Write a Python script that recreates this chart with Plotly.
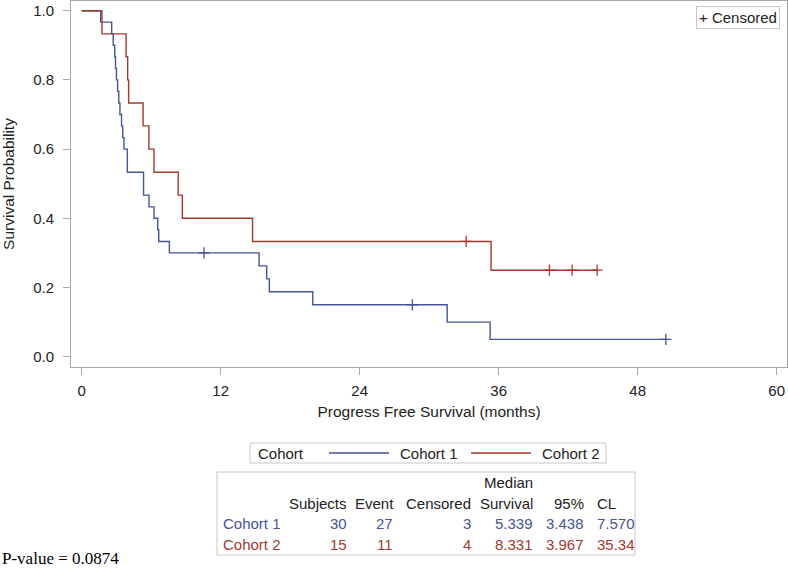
import plotly.graph_objects as go

# Kaplan-Meier steps (time in months, survival probability)
cohort1_time = [0, 1.64, 2.59, 2.72, 2.85, 2.92, 3.0, 3.1, 3.2, 3.3, 3.438, 3.54, 3.65,
                3.94, 5.339, 5.81, 6.24, 6.56, 6.65, 7.57, 15.31, 15.97, 16.2, 19.95,
                31.55, 35.26, 50.43]
cohort1_surv = [1.0, 0.967, 0.933, 0.9, 0.867, 0.833, 0.8, 0.767, 0.733, 0.7, 0.667, 0.633, 0.6,
                0.533, 0.467, 0.433, 0.4, 0.367, 0.333, 0.3, 0.2625, 0.225, 0.1875, 0.15,
                0.1, 0.05, 0.05]
cohort1_cens_time = [10.56, 28.55, 50.43]
cohort1_cens_surv = [0.3, 0.15, 0.05]

cohort2_time = [0, 1.75, 3.83, 3.967, 4.05, 5.3, 5.8, 6.24, 8.331, 8.69, 14.75, 35.34, 44.5]
cohort2_surv = [1.0, 0.933, 0.867, 0.8, 0.733, 0.667, 0.6, 0.533, 0.467, 0.4, 0.333, 0.25, 0.25]
cohort2_cens_time = [33.19, 40.38, 42.34, 44.5]
cohort2_cens_surv = [0.333, 0.25, 0.25, 0.25]

# summary table
cohorts = ["Cohort 1", "Cohort 2"]
subjects = [30, 15]
events = [27, 11]
censored = [3, 4]
median_surv = ["5.339", "8.331"]
lower_cl = ["3.438", "3.967"]
upper_cl = ["7.570", "35.34"]
p_value = "0.0874"

BLUE = "#445694"
RED = "#A23A2E"
GRID = "#a8a8a8"
FONT = "Arial, Liberation Sans, sans-serif"

# plot area in pixels (figure is 788x569)
L, R, T, B = 71, 787, 1, 367


def px_x(q):
    return (q - L) / (R - L)


def px_y(p):
    return (B - p) / (B - T)


fig = go.Figure()

for name, t, s, ct, cs, col in [
    ("Cohort 1", cohort1_time, cohort1_surv, cohort1_cens_time, cohort1_cens_surv, BLUE),
    ("Cohort 2", cohort2_time, cohort2_surv, cohort2_cens_time, cohort2_cens_surv, RED),
]:
    fig.add_trace(go.Scatter(x=t, y=s, mode="lines", line=dict(shape="hv", color=col, width=1.4),
                             name=name, showlegend=False))
    fig.add_trace(go.Scatter(x=ct, y=cs, mode="markers", name=name + " censored", showlegend=False,
                             marker=dict(symbol="cross-thin", size=8, line=dict(color=col, width=1.3))))

axis_common = dict(showline=True, mirror=True, linecolor=GRID, linewidth=1, ticks="outside",
                   ticklen=7, tickcolor=GRID, showgrid=False, zeroline=False,
                   tickfont=dict(family=FONT, size=15, color="#222"))

fig.update_xaxes(range=[-0.924, 60.89], tickvals=[0, 12, 24, 36, 48, 60], ticklabelstandoff=3,
                 title=dict(text="Progress Free Survival (months)", standoff=8,
                            font=dict(family=FONT, size=15.5, color="#222")),
                 **axis_common)
fig.update_yaxes(range=[-0.0298, 1.028], tickvals=[0, 0.2, 0.4, 0.6, 0.8, 1.0], tickformat=".1f",
                 ticklabelstandoff=6,
                 title=dict(text="Survival Probability", standoff=16,
                            font=dict(family=FONT, size=15.5, color="#222")),
                 **axis_common)

shapes = []
ann = []

# "+ Censored" inset
ann.append(dict(x=px_x(780), y=px_y(6.5), xref="paper", yref="paper", xanchor="right", yanchor="top",
                text="+ Censored", showarrow=False, font=dict(family=FONT, size=15, color="#222"),
                bordercolor="#c8c8c8", borderwidth=1, borderpad=2, bgcolor="white"))

# cohort legend below the plot
shapes.append(dict(type="rect", xref="paper", yref="paper", x0=px_x(250), x1=px_x(606),
                   y0=px_y(463), y1=px_y(443), line=dict(color="#c8c8c8", width=1)))
ann.append(dict(x=px_x(256), y=px_y(453), xref="paper", yref="paper", xanchor="left", yanchor="middle",
                text="Cohort", showarrow=False, font=dict(family=FONT, size=15, color="#222")))
for (x0, x1, tx), name, col in zip([(329, 389, 398), (471, 531, 540)], cohorts, [BLUE, RED]):
    shapes.append(dict(type="line", xref="paper", yref="paper", x0=px_x(x0), x1=px_x(x1),
                       y0=px_y(453), y1=px_y(453), line=dict(color=col, width=1.4)))
    ann.append(dict(x=px_x(tx), y=px_y(453), xref="paper", yref="paper", xanchor="left",
                    yanchor="middle", text=name, showarrow=False,
                    font=dict(family=FONT, size=15, color="#222")))

# summary table
shapes.append(dict(type="rect", xref="paper", yref="paper", x0=px_x(217), x1=px_x(635),
                   y0=px_y(555), y1=px_y(472), line=dict(color="#c8c8c8", width=1)))


def cell(text, xr, yc, color="#222", anchor="right"):
    ann.append(dict(x=px_x(xr), y=px_y(yc), xref="paper", yref="paper", xanchor=anchor,
                    yanchor="middle", text=text, showarrow=False,
                    font=dict(family=FONT, size=15, color=color)))


cell("Median", 535, 483)
for text, xr in [("Subjects", 349), ("Event", 396), ("Censored", 473), ("Survival", 535), ("95%", 586)]:
    cell(text, xr, 503)
cell("CL", 595, 503, anchor="left")

for i, col in enumerate([BLUE, RED]):
    yc = [523.5, 544.5][i]
    cell(cohorts[i], 221, yc, col, anchor="left")
    cell(str(subjects[i]), 349, yc, col)
    cell(str(events[i]), 395, yc, col)
    cell(str(censored[i]), 473, yc, col)
    cell(median_surv[i], 535, yc, col)
    cell(lower_cl[i], 586, yc, col)
    cell(upper_cl[i], 595, yc, col, anchor="left")

# p-value from log-rank test
ann.append(dict(x=px_x(0), y=px_y(558.5), xref="paper", yref="paper", xanchor="left", yanchor="middle",
                text="P-value = " + p_value, showarrow=False,
                font=dict(family="Times New Roman, Liberation Serif, serif", size=17, color="black")))

fig.update_layout(width=788, height=569, margin=dict(l=L, r=788 - R, t=T, b=569 - B),
                  paper_bgcolor="white", plot_bgcolor="white", showlegend=False,
                  shapes=shapes, annotations=ann)

# drop the default body margin so the figure sits at the page origin
fig.write_html("out.html", config={"displayModeBar": False},
               post_script="document.body.style.margin='0px';")
